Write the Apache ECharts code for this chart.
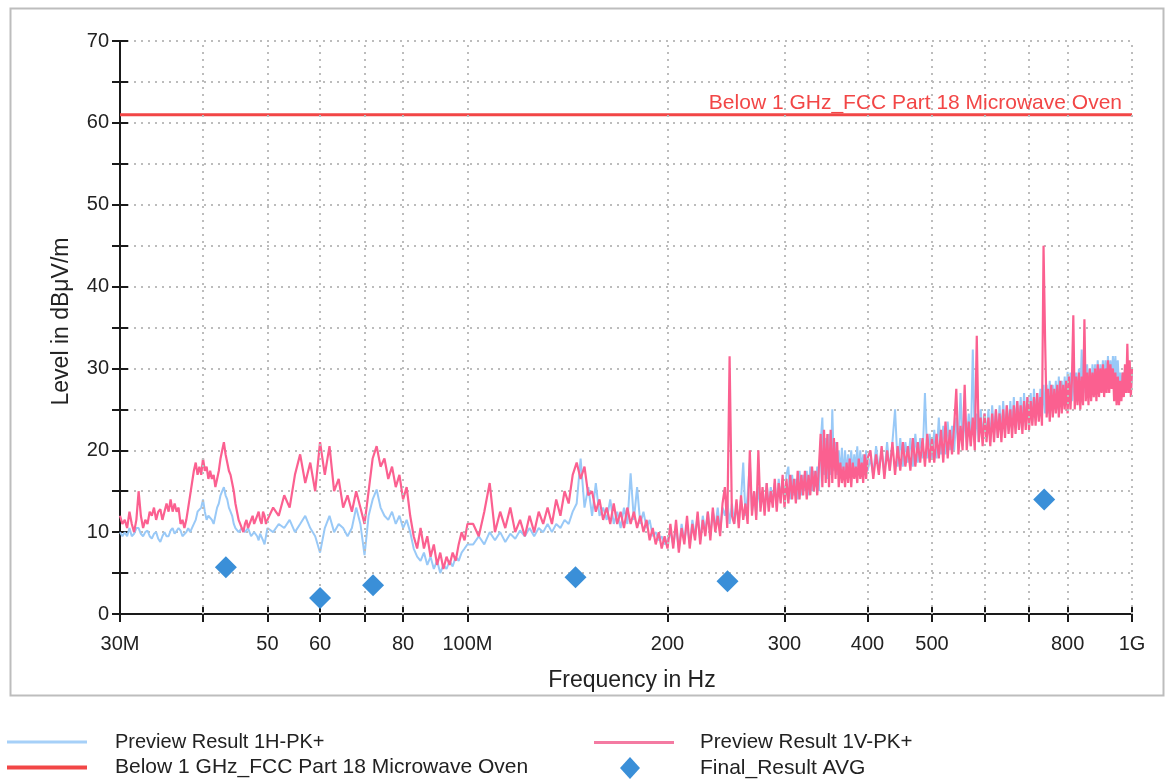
<!DOCTYPE html>
<html><head><meta charset="utf-8">
<script src="https://cdn.jsdelivr.net/npm/echarts@6/dist/echarts.min.js"></script>
<style>html,body{margin:0;padding:0;background:#fff}#c{width:1169px;height:782px}</style>
</head><body><div id="c"></div>
<script>
// ---- DATA ----
const freqMHz = [
 30,30.25,30.5,30.75,31,31.25,31.5,31.75,32,32.25,32.5,32.75,33,33.25,33.5,33.75,34,34.25,34.5,34.75,
 35,35.25,35.5,35.75,36,36.25,36.5,36.75,37,37.25,37.5,37.75,38,38.25,38.5,38.75,39,39.25,39.5,39.75,
 40,40.25,40.5,40.75,41,41.25,41.5,41.75,42,42.25,42.5,42.75,43,43.25,43.5,43.75,44,44.25,44.5,44.75,
 45,45.25,45.5,45.75,46,46.25,46.5,46.75,47,47.25,47.5,47.75,48,48.25,48.5,48.75,49,49.25,49.5,49.75,50,
 51,52,53,54,55,56,57,58,59,60,61,62,63,64,65,66,67,68,69,70,71,72,73,74,75,76,77,78,79,80,81,82,83,84,85,86,87,88,89,90,91,92,93,94,95,96,97,98,99,100,
 102,104,106,108,110,112,114,116,118,120,122,124,126,128,130,132,134,136,138,140,142,144,146,148,150,152,154,156,158,160,162,164,166,168,170,172,174,176,178,180,182,184,186,188,190,192,194,196,198,200,
 202,204,206,208,210,212,214,216,218,220,222,224,226,228,230,232,234,236,238,240,
 242,244,246,248,250,252,254,256,258,260,262,264,266,268,270,272,274,276,278,280,
 282,284,286,288,290,292,294,296,298,300,302,304,306,308,310,312,314,316,318,320,
 322,324,326,328,330,332,334,336,338,340,342,344,346,348,350,352,354,356,358,360,
 362,364,366,368,370,372,374,376,378,380,382,384,386,388,390,392,394,396,398,400,
 404,408,412,416,420,424,428,432,436,440,444,448,452,456,460,464,468,472,476,480,484,488,492,496,500,
 504,508,512,516,520,524,528,532,536,540,544,548,552,556,560,564,568,572,576,580,584,588,592,596,600,
 604,608,612,616,620,624,628,632,636,640,644,648,652,656,660,664,668,672,676,680,684,688,692,696,700,
 704,708,712,716,720,724,728,732,736,740,744,748,752,756,760,764,768,772,776,780,784,788,792,796,800,
 804,808,812,816,820,824,828,832,836,840,844,848,852,856,860,864,868,872,876,880,884,888,892,896,900,
 904,908,912,916,920,924,928,932,936,940,944,948,952,956,960,964,968,972,976,980,984,988,992,996,1000
];
// Preview Result 1H-PK+ (blue)
const levelH = [
 10,9.5,10,9.5, 10.5,9.5,9.8,10.5, 10.5,9.8,9.5,10, 10.2,9.5,9.2,9.8, 10,9.2,8.8,9.5,
 10,9.5,9.5,10.2, 10.5,9.8,9.8,10.5, 10.2,9.5,9.5,10, 10.5,10,10,11, 11.5,12.5,12.5,13,
 14,12.5,11.5,12, 12,11.5,11,12, 13,13.5,14.5,15, 15.5,14.5,14,13, 12.5,12,11,10.5,
 10.5,10,10,10.5, 10.5,10,9.8,10.5, 10.5,9.5,9.5,10, 10.2,9.5,9,9.8, 10,9,8.5,9.5, 10.5,
 10,11,10.5,11.5,10,11,12,10.5,9.5,7.5,10.5,12,10,11,10.5,9.5,10.5,13,11,7.2,12,14,15.2,13,12,11.5,12.5,11,12,10.5,11.5,10,8,7,6.5,7.5,6,7,5.5,6.5,5,6,5.5,6.5,5.8,7,6.5,7.5,8,8.5,
 8.5,9.5,8.5,10,9,10,8.8,9.8,9.2,10.2,9.5,10.5,9.5,10.5,10,11,10,11,10.5,11.5,11,12.5,13.5,19,13,15.5,12,16,12,13,11.5,14,11,12.5,10.5,13,11,17.2,11.5,15.5,11,12.5,10.5,11.5,9.5,10,9,9.5,8.5,9,
 10,8.5,10.5,8,11,9,11,8.5,11.5,9.5,12,9,12,10,12.5,9.5,12.5,10.5,13,10,
 13,12,14,11,13.5,11,13,11.5,14,18.5,12,14.5,18.5,12.5,15,12,15.5,13,15,12.5,
 16,13,15.5,13.5,16,13,16.5,14,16.5,13.5,17,18,14,17,14.5,16.5,14,17.5,14.5,17,
 15,17.5,14.5,18,15,17.5,15.5,18,15,21,24,17,21.5,16.5,22,17,25,17.5,21,17,
 20,17,20.3,16.5,20,17,19.5,17.5,20,17,19.5,17.5,20.5,17,20,17.5,19.5,17,20,17.5,
 19,17,20.5,17.5,20,17,21,17.5,21,25,18,21.5,18,21,18.5,21.5,18,22,18.5,21.5,19,27,19,22,19,
 22.5,19,24,19.5,23,19.5,23.5,20,23,20,24,20.5,27,20.5,24,21,24.5,20.5,32.3,21,24.5,21,25,21.5,24.5,
 21.5,25,21,25.5,22,25,21.5,25.5,22,26,22,25.5,22.5,26,22.5,26.5,23,26,22.5,26.5,23,27,23,26.5,23.5,
 27,23.5,27.5,24,27,24,27.5,24,28,24.5,28,24.5,28.5,25,28,25,28.5,25,29,25.5,28.5,25.5,29,25.5,29.6,
 26,29.5,26,30,26,29.5,26.5,30,26.5,32.3,26.5,30,27,30.5,27,30,27,30.5,27.5,30.5,27,31,27.5,30.5,27.5,
 31,28,31,28,31.5,28.5,31,28.5,31.5,29,31.5,29,31,27.5,29.5,26.5,29.5,27,30,27.5,30.5,27.5,30,27,29.5
];
// Preview Result 1V-PK+ (pink)
const levelV = [
 12,11,11.5,10.5, 12.5,11,10,11.5, 15,12,10.5,11.5, 11,12.5,12,13, 11.5,12.5,12.8,11.5,
 12.5,13.5,12.5,14, 12.5,13.5,12.5,13, 11,11.5,10.5,11.5, 13,14.5,16,17.5, 18.5,17,18,17,
 19,17.5,18,16.5, 17.5,16.5,17,15.5, 16.5,17.5,19,20, 21,19.5,18.5,17.5, 17,16,15,13.5,
 12.5,11.5,11,10.5, 10,11,11.5,10.5, 10.5,11.5,12,11, 11,12,12.5,11.5, 11,12.5,12,11, 11.5,
 13,12,14.5,13,17,19.5,16,18.5,15,21,17,20.5,15,16.5,13,14.5,12.5,15,13,11,15,19,20.5,18,19,16.5,18,15.5,17,14,15.5,12,9.5,8,10.5,8,9.5,7,8.5,6,7.5,5.5,7,6,7.5,6.5,8.5,10,9,11,
 11,9.5,12.5,16,10,12.5,10.5,13,10,11.5,9.5,12,10,12.5,11,13,11,14,12,15,13.5,17,18.5,16.5,18,14.5,15,12.5,14,11.5,13,11,13.5,11,12.5,10.5,13,11,12.5,10.5,12,10,11.5,9,10.5,8.5,10,8,9.5,8,
 11,8,11.5,7.5,10.5,8.5,12,8,11,9,12.5,8.5,11.5,9.5,12.5,9,13,10,12,9.5,
 13.5,15.5,10.5,31.5,12,11,14,10.5,14.5,11.5,13.5,11,20,12,15,11.5,20,12.5,15.5,12,
 16,12.5,15,13,16.5,12.5,16,13.5,17,13,16.5,13.5,17,14,16.5,13.5,17.5,14,17,14.5,
 17.5,14,17,14.5,18,15,17.5,14.5,18,22,15.5,22.5,16,22,15.5,22.5,16,21.5,16.5,21,
 15.5,18.5,16,18,15.5,18.5,16,19,15.5,18.5,16.5,18,16,19,16.5,18.5,16,19.5,16.5,19,
 20,16.5,19.5,17,20.5,16.5,20,17.5,21,17,20.5,17.5,21,18,20.5,17.5,21.5,18,21,18.5,21.5,18,22,18.5,21.5,
 18.5,22,19,22.5,18.5,23.5,19,22.5,19.5,23,27.5,19.5,23,20,28,20,23.5,20.5,24,20,34,21,24,20.5,24.5,
 21,24,20.5,24.5,21,25,21.5,24.5,21,25,21.5,25.5,22,25,21.5,25.5,22,26,22.5,25.5,22,26,22.5,26.5,22.5,
 26,23,26.5,23,27,23.5,26.5,23,45,33.5,24,27.5,23.5,28,24,27.5,24.5,28,24,28.5,24.5,28,25,28.5,24.5,
 29,25,28.5,36.5,25,29,25.5,29.5,25,29,25.5,36,26,29.5,25.5,30,26,29.5,26.5,30,26,30.5,26.5,30,27,
 30.5,26.5,30,27,31,27,30.5,27.5,30,26,29.5,25.5,29,25.5,28.5,26,29.5,26.5,30.5,27,33,27,31,26.5,30
];
const limitFreq = [30, 1000];
const limitLevel = [61, 61];
const avgFreq = [43.3, 60, 72.1, 145.4, 246.2, 737.6];
const avgLevel = [5.7, 1.95, 3.5, 4.5, 4.0, 14.0];
const xTickValues = [30, 40, 50, 60, 70, 80, 100, 200, 300, 400, 500, 600, 700, 800, 1000];
const xLabelValues = [30, 50, 60, 80, 100, 200, 300, 400, 500, 800, 1000];
const xLabelText = {30: '30M', 100: '100M', 1000: '1G'};
const xGridValues = [40, 50, 60, 70, 80, 100, 200, 300, 400, 500, 600, 700, 800, 1000];

const NAME_H = 'Preview Result 1H-PK+';
const NAME_V = 'Preview Result 1V-PK+';
const NAME_L = 'Below 1 GHz_FCC Part 18 Microwave Oven';
const NAME_A = 'Final_Result AVG';

const FONT = '"Liberation Sans", Arial, sans-serif';
const C_BLUE = '#99c9f7';
const C_PINK = '#fb6090';
const C_RED = '#f24646';
const C_DIA = '#3a8fd8';
const C_AX = '#1a1a1a';
const gridDots = {type: [2, 5], color: '#bcbcbc', width: 2};

const pairs = (xs, ys) => xs.map((x, i) => [x, ys[i]]);
const legendText = (pad, size) => ({fontSize: size, color: '#222', fontFamily: FONT, padding: [0, 0, 0, pad]});

const chart = echarts.init(document.getElementById('c'), null, {renderer: 'canvas'});
const option = {
  animation: false,
  backgroundColor: '#fff',
  textStyle: {fontFamily: FONT},
  graphic: [{
    type: 'rect', left: 8, top: 6, z: -10, silent: true,
    shape: {width: 1153, height: 687},
    style: {fill: 'none', stroke: '#bdbdbd', lineWidth: 2}
  }],
  grid: {left: 120, right: 37, top: 41, bottom: 168, containLabel: false},
  xAxis: [{
    type: 'log', logBase: 10, min: 30, max: 1000, position: 'bottom',
    axisLine: {show: true, onZero: false, lineStyle: {color: C_AX, width: 2}},
    axisTick: {show: true, customValues: xTickValues, length: 8, lineStyle: {color: C_AX, width: 2}},
    axisLabel: {customValues: xLabelValues, margin: 20, fontSize: 20, color: '#222', fontFamily: FONT,
      formatter: v => { const r = Math.round(v); return xLabelText[r] || String(r); }},
    splitLine: {show: false}, minorTick: {show: false},
    name: 'Frequency in Hz', nameLocation: 'middle', nameGap: 55,
    nameTextStyle: {fontSize: 23, color: '#222', fontFamily: FONT, padding: [0, 0, 0, 12]}
  }, {
    type: 'log', logBase: 10, min: 30, max: 1000, position: 'bottom',
    axisLine: {show: false},
    axisTick: {show: true, inside: true, customValues: xTickValues, length: 8, lineStyle: {color: C_AX, width: 2}},
    axisLabel: {show: false}, splitLine: {show: false}
  }],
  yAxis: [{
    type: 'value', min: 0, max: 70, interval: 5, position: 'left',
    axisLine: {show: true, onZero: false, lineStyle: {color: C_AX, width: 2}},
    axisTick: {show: true, length: 8, lineStyle: {color: C_AX, width: 2}},
    axisLabel: {formatter: v => (v % 10 === 0 ? String(v) : ''), fontSize: 20, color: '#222', margin: 11, fontFamily: FONT},
    splitLine: {show: true, lineStyle: gridDots},
    name: 'Level in dBμV/m', nameLocation: 'middle', nameGap: 47,
    nameTextStyle: {fontSize: 23, color: '#222', fontFamily: FONT, padding: [0, 0, 0, 12]}
  }, {
    type: 'value', min: 0, max: 70, interval: 5, position: 'left',
    axisLine: {show: false},
    axisTick: {show: true, inside: true, length: 8, lineStyle: {color: C_AX, width: 2}},
    axisLabel: {show: false}, splitLine: {show: false}
  }],
  legend: [
    {left: 7, top: 732, padding: 0, icon: 'rect', itemWidth: 80, itemHeight: 3,
     data: [{name: NAME_H, itemStyle: {color: '#a6d0f8'}}], textStyle: legendText(23, 20)},
    {left: 7, top: 757, padding: 0, icon: 'rect', itemWidth: 80, itemHeight: 4,
     data: [{name: NAME_L, itemStyle: {color: C_RED}}], textStyle: legendText(23, 21)},
    {left: 594, top: 732, padding: 0, icon: 'rect', itemWidth: 80, itemHeight: 3,
     data: [{name: NAME_V, itemStyle: {color: '#f47aa2'}}], textStyle: legendText(21, 20.5)},
    {left: 620, top: 757, padding: 0, icon: 'diamond', itemWidth: 20, itemHeight: 22,
     data: [{name: NAME_A, itemStyle: {color: C_DIA, opacity: 1}}], textStyle: legendText(55, 21)}
  ],
  series: [{
    name: '_grid', type: 'line', data: [], silent: true, z: 1,
    markLine: {silent: true, symbol: ['none', 'none'], label: {show: false}, lineStyle: gridDots,
      emphasis: {disabled: true}, animation: false,
      data: xGridValues.map(v => ({xAxis: v}))}
  }, {
    name: NAME_H, type: 'line', data: pairs(freqMHz, levelH), symbol: 'none', z: 2,
    lineStyle: {color: C_BLUE, width: 2}, itemStyle: {color: C_BLUE}
  }, {
    name: NAME_V, type: 'line', data: pairs(freqMHz, levelV), symbol: 'none', z: 3,
    lineStyle: {color: C_PINK, width: 2.2}, itemStyle: {color: C_PINK}
  }, {
    name: NAME_L, type: 'line', data: pairs(limitFreq, limitLevel), symbol: 'none', z: 4,
    lineStyle: {color: C_RED, width: 3}, itemStyle: {color: C_RED},
    markLine: {silent: true, symbol: ['none', 'none'], lineStyle: {color: 'rgba(0,0,0,0)', width: 1},
      label: {show: true, position: 'insideEndTop', formatter: NAME_L, color: C_RED, fontSize: 21,
        fontFamily: FONT, distance: [10, 1]},
      data: [{yAxis: limitLevel[0]}]}
  }, {
    name: NAME_A, type: 'scatter', data: pairs(avgFreq, avgLevel), symbol: 'diamond', symbolSize: 22, z: 5,
    itemStyle: {color: C_DIA, opacity: 1}
  }]
};
chart.setOption(option);
</script>
</body></html>
